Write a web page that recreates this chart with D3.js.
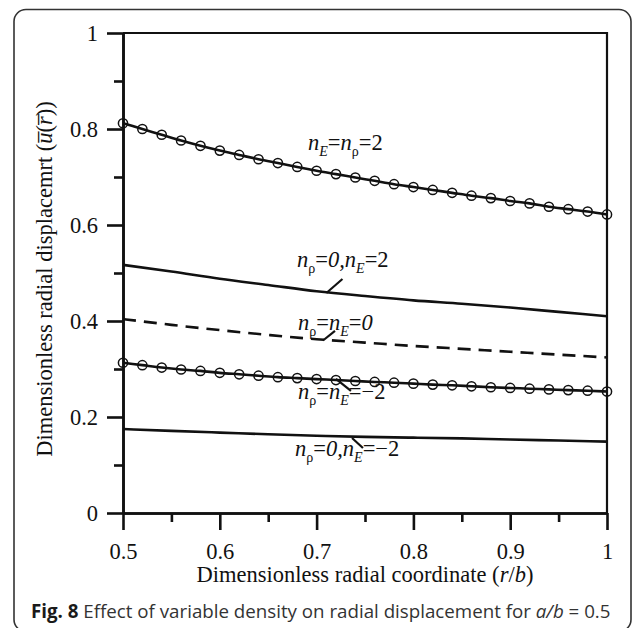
<!DOCTYPE html>
<html><head><meta charset="utf-8">
<script src="https://cdn.jsdelivr.net/npm/d3@7"></script>
<style>body{margin:0;background:#fff}svg{display:block}</style>
</head><body>
<svg id="c" width="633" height="628"></svg>
<script>
// ---------- data ----------
const xMarks = [0.5,0.52,0.54,0.56,0.58,0.6,0.62,0.64,0.66,0.68,0.7,0.72,0.74,0.76,0.78,0.8,0.82,0.84,0.86,0.88,0.9,0.92,0.94,0.96,0.98,1.0];
const seriesE2R2 = [0.812,0.800,0.788,0.776,0.765,0.755,0.746,0.737,0.729,0.721,0.713,0.706,0.699,0.692,0.685,0.679,0.673,0.667,0.661,0.656,0.650,0.645,0.638,0.633,0.628,0.622];
const seriesEm2Rm2 = [0.313,0.308,0.303,0.299,0.296,0.292,0.289,0.286,0.283,0.281,0.279,0.277,0.275,0.273,0.2715,0.2695,0.2675,0.266,0.264,0.262,0.2605,0.259,0.2575,0.256,0.2548,0.253];
const xCurve = [0.5,0.55,0.6,0.65,0.7,0.75,0.8,0.85,0.9,0.95,1.0];
const seriesR0E2 = [0.517,0.503,0.488,0.475,0.462,0.452,0.443,0.436,0.428,0.419,0.410];
const seriesR0E0 = [0.404,0.392,0.381,0.371,0.362,0.355,0.348,0.342,0.336,0.330,0.324];
const seriesR0Em2 = [0.175,0.171,0.1675,0.164,0.161,0.1585,0.157,0.1555,0.153,0.151,0.1487];
const yMajor = [0,0.2,0.4,0.6,0.8,1];
const yMajorLabels = ["0","0.2","0.4","0.6","0.8","1"];
const yMinor = [0.1,0.3,0.5,0.7,0.9];
const xMajor = [0.5,0.6,0.7,0.8,0.9,1];
const xMajorLabels = ["0.5","0.6","0.7","0.8","0.9","1"];
const xMinor = [0.55,0.65,0.75,0.85,0.95];

// ---------- layout ----------
const svg = d3.select("#c");
const L = 123, R = 607, T = 33, B = 513;
const x = d3.scaleLinear().domain([0.5,1]).range([L,R]);
const y = d3.scaleLinear().domain([0,1]).range([B,T]);
const serif = "'Liberation Serif','Times New Roman',Times,serif";

// outer rounded frame
svg.append("rect").attr("x",14).attr("y",9.5).attr("width",617).attr("height",622)
  .attr("rx",12).attr("fill","none").attr("stroke","#333").attr("stroke-width",1.6);

// top & right frame of plot
svg.append("path").attr("d",`M${L},${T}H${R}V${B}`).attr("fill","none")
  .attr("stroke","#111").attr("stroke-width",2.2);

function styleAxis(g){
  g.attr("font-family",serif).attr("font-size",22.5);
  g.selectAll("path.domain").attr("stroke","#111").attr("stroke-width",2.6);
  g.selectAll(".tick line").attr("stroke","#111").attr("stroke-width",2.6);
  g.selectAll("text").attr("font-family",serif).attr("font-size",22.5).attr("fill","#111");
}
// y axis
const gyMinor = svg.append("g").attr("transform",`translate(${L},0)`)
  .call(d3.axisLeft(y).tickValues(yMinor).tickSize(9).tickSizeOuter(0).tickFormat(""));
styleAxis(gyMinor);
const gy = svg.append("g").attr("transform",`translate(${L},0)`)
  .call(d3.axisLeft(y).tickValues(yMajor).tickSize(16).tickPadding(9).tickSizeOuter(0)
    .tickFormat((d,i)=>yMajorLabels[i]));
styleAxis(gy);
// x axis
const gxMinor = svg.append("g").attr("transform",`translate(0,${B})`)
  .call(d3.axisBottom(x).tickValues(xMinor).tickSize(9).tickSizeOuter(0).tickFormat(""));
styleAxis(gxMinor);
const gx = svg.append("g").attr("transform",`translate(0,${B})`)
  .call(d3.axisBottom(x).tickValues(xMajor).tickSize(17).tickPadding(13).tickSizeOuter(0)
    .tickFormat((d,i)=>xMajorLabels[i]));
styleAxis(gx);

// axis titles
const xt = svg.append("text").attr("x",365).attr("y",582).attr("text-anchor","middle")
  .attr("font-family",serif).attr("font-size",22.5).attr("fill","#111");
xt.append("tspan").text("Dimensionless radial coordinate (");
xt.append("tspan").attr("font-style","italic").text("r");
xt.append("tspan").text("/");
xt.append("tspan").attr("font-style","italic").text("b");
xt.append("tspan").text(")");

const yt = svg.append("text").attr("transform","translate(52,279) rotate(-90)").attr("text-anchor","middle")
  .attr("font-family",serif).attr("font-size",22.5).attr("fill","#111");
yt.append("tspan").text("Dimensionless radial displacemrt (");
yt.append("tspan").attr("font-style","italic").text("u\u0305");
yt.append("tspan").text("(");
yt.append("tspan").attr("font-style","italic").text("r\u0305");
yt.append("tspan").text("))");

// ---------- curves ----------
const line = d3.line().x(d=>x(d[0])).y(d=>y(d[1])).curve(d3.curveMonotoneX);
const straight = d3.line().x(d=>x(d[0])).y(d=>y(d[1]));
const plot = svg.append("g");
function drawLine(xs, ys, dash){
  plot.append("path").datum(xs.map((v,i)=>[v,ys[i]])).attr("d",line)
    .attr("fill","none").attr("stroke","#111").attr("stroke-width",2.6)
    .attr("stroke-dasharray",dash||null);
}
drawLine(xMarks, seriesE2R2);
drawLine(xCurve, seriesR0E2);
drawLine(xCurve, seriesR0E0, "13,8");
drawLine(xMarks, seriesEm2Rm2);
drawLine(xCurve, seriesR0Em2);
function drawMarks(xs, ys){
  plot.append("g").selectAll("circle").data(xs.map((v,i)=>[v,ys[i]])).join("circle")
    .attr("cx",d=>x(d[0])).attr("cy",d=>y(d[1])).attr("r",4.6)
    .attr("fill","none").attr("stroke","#111").attr("stroke-width",1.5);
}
drawMarks(xMarks, seriesE2R2);
drawMarks(xMarks, seriesEm2Rm2);

// ---------- annotations (positions in data units) ----------
const annotations = [
  {at:[0.6911,0.756], parts:[["n","i"],["E","si"],["=",""],["n","i"],["\u03c1","s"],["=2",""]], leader:null},
  {at:[0.6798,0.5125], parts:[["n","i"],["\u03c1","s"],["=",""],["0,","i"],["n","i"],["E","si"],["=2",""]], leader:[[0.7267,0.4875],[0.7101,0.4583]]},
  {at:[0.6808,0.3813], parts:[["n","i"],["\u03c1","s"],["=",""],["n","i"],["E","si"],["=",""],["0","i"]], leader:[[0.7190,0.3792],[0.7066,0.3594]]},
  {at:[0.6808,0.2375], parts:[["n","i"],["\u03c1","s"],["=",""],["n","i"],["E","si"],["=\u22122",""]], leader:[[0.7200,0.2792],[0.7355,0.2542]]},
  {at:[0.6777,0.1188], parts:[["n","i"],["\u03c1","s"],["=",""],["0,","i"],["n","i"],["E","si"],["=\u22122",""]], leader:[[0.7366,0.1563],[0.7479,0.1354]]}
];
annotations.forEach(a=>{
  const t = svg.append("text").attr("x",x(a.at[0])).attr("y",y(a.at[1]))
    .attr("font-family",serif).attr("font-size",22.5).attr("fill","#111");
  let shifted = false;
  a.parts.forEach(p=>{
    const sp = t.append("tspan").text(p[0]);
    const isSub = p[1]==="s"||p[1]==="si";
    if (p[1]==="i"||p[1]==="si") sp.attr("font-style","italic");
    if (isSub){ sp.attr("font-size",14); if(!shifted){sp.attr("dy",6); shifted=true;} }
    else if (shifted){ sp.attr("dy",-6); shifted=false; }
  });
  if (a.leader){
    svg.append("path").attr("d",straight(a.leader))
      .attr("fill","none").attr("stroke","#111").attr("stroke-width",2.2);
  }
});

// ---------- caption ----------
const cap = svg.append("text").attr("x",31).attr("y",618)
  .attr("font-family","'Open Sans',sans-serif").attr("font-size",18).attr("fill","#333");
cap.append("tspan").attr("font-weight","bold").attr("fill","#1a1a1a").text("Fig. 8");
cap.append("tspan").text(" Effect of variable density on radial displacement for ");
cap.append("tspan").attr("font-style","italic").text("a/b");
cap.append("tspan").text(" = 0.5");
const w = cap.node().getComputedTextLength();
cap.attr("font-size", 18*580/w);
</script>
</body></html>
